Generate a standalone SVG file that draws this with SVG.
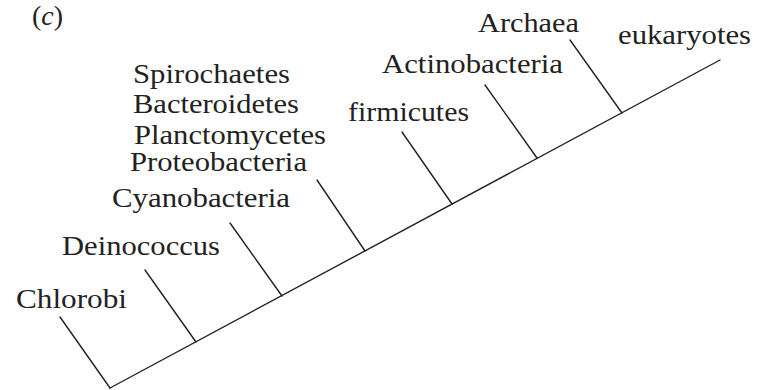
<svg xmlns="http://www.w3.org/2000/svg" width="759" height="390" viewBox="0 0 759 390">
<style>
text{font-family:'Liberation Serif','Times New Roman',Times,serif;font-size:27px;fill:#222}
.l{stroke:#222;stroke-width:1.4;fill:none;stroke-linecap:round}
</style>
<rect width="759" height="390" fill="#fff"/>
<text x="32" y="25" font-size="24" textLength="31" lengthAdjust="spacingAndGlyphs">(<tspan font-style="italic">c</tspan>)</text>
<g id="connectors">
<line class="l" x1="110" y1="388" x2="720" y2="60"/>
<line class="l" x1="60" y1="317" x2="110" y2="388"/>
<line class="l" x1="145" y1="270" x2="196" y2="342"/>
<line class="l" x1="230" y1="223" x2="282" y2="296"/>
<line class="l" x1="317" y1="180" x2="365" y2="251"/>
<line class="l" x1="402" y1="132" x2="452" y2="204"/>
<line class="l" x1="485" y1="85" x2="537" y2="158"/>
<line class="l" x1="570" y1="40" x2="622" y2="113"/>
</g>
<g id="chlorobi"><text x="16" y="308" textLength="111" lengthAdjust="spacingAndGlyphs">Chlorobi</text></g>
<g id="deinococcus"><text x="62" y="255" textLength="158" lengthAdjust="spacingAndGlyphs">Deinococcus</text></g>
<g id="cyanobacteria"><text x="112" y="207" textLength="178" lengthAdjust="spacingAndGlyphs">Cyanobacteria</text></g>
<g id="proteobacteria"><text x="130" y="171" textLength="177" lengthAdjust="spacingAndGlyphs">Proteobacteria</text></g>
<g id="planctomycetes"><text x="134" y="144" textLength="192" lengthAdjust="spacingAndGlyphs">Planctomycetes</text></g>
<g id="bacteroidetes"><text x="133" y="113" textLength="166" lengthAdjust="spacingAndGlyphs">Bacteroidetes</text></g>
<g id="spirochaetes"><text x="133" y="83" textLength="157" lengthAdjust="spacingAndGlyphs">Spirochaetes</text></g>
<g id="firmicutes"><text x="348" y="121" textLength="121" lengthAdjust="spacingAndGlyphs">firmicutes</text></g>
<g id="actinobacteria"><text x="382" y="73" textLength="181" lengthAdjust="spacingAndGlyphs">Actinobacteria</text></g>
<g id="archaea"><text x="478" y="32" textLength="101" lengthAdjust="spacingAndGlyphs">Archaea</text></g>
<g id="eukaryotes"><text x="618" y="44" textLength="133" lengthAdjust="spacingAndGlyphs">eukaryotes</text></g>
</svg>
